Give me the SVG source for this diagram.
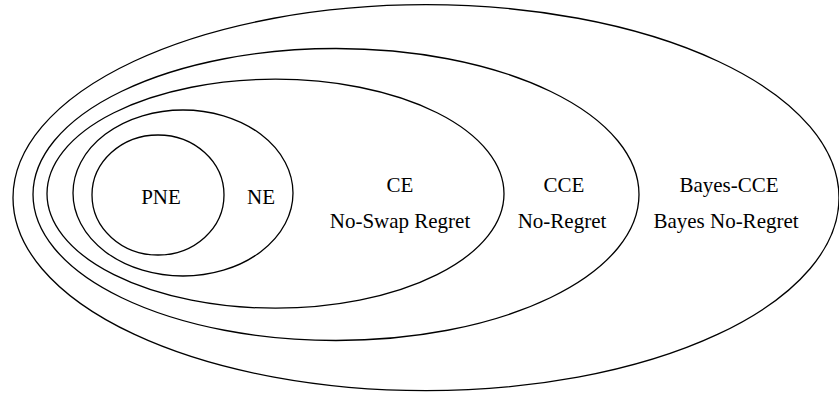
<svg xmlns="http://www.w3.org/2000/svg" width="839" height="396" viewBox="0 0 839 396">
<style>
.e{fill:none;stroke:#000;stroke-width:1.3}
.t{font-family:"Liberation Serif","Times New Roman",serif;font-size:21px;fill:#000;text-anchor:middle}
</style>
<rect width="839" height="396" fill="#fff"/>
<g id="bayes-cce">
<ellipse class="e" cx="426" cy="197.7" rx="413" ry="193"/>
<text class="t" x="729" y="192">Bayes-CCE</text>
<text class="t" x="726" y="228">Bayes No-Regret</text>
</g>
<g id="cce">
<ellipse class="e" cx="336" cy="194.5" rx="303" ry="146"/>
<text class="t" x="564" y="192">CCE</text>
<text class="t" x="562" y="228">No-Regret</text>
</g>
<g id="ce">
<ellipse class="e" cx="275.5" cy="193.7" rx="228.5" ry="114.5"/>
<text class="t" x="400" y="192">CE</text>
<text class="t" x="400" y="228">No-Swap Regret</text>
</g>
<g id="ne">
<ellipse class="e" cx="183" cy="193" rx="110" ry="83"/>
<text class="t" x="261" y="204">NE</text>
</g>
<g id="pne">
<ellipse class="e" cx="158" cy="195" rx="66" ry="60"/>
<text class="t" x="161" y="204">PNE</text>
</g>
<g id="connectors"/>
</svg>
